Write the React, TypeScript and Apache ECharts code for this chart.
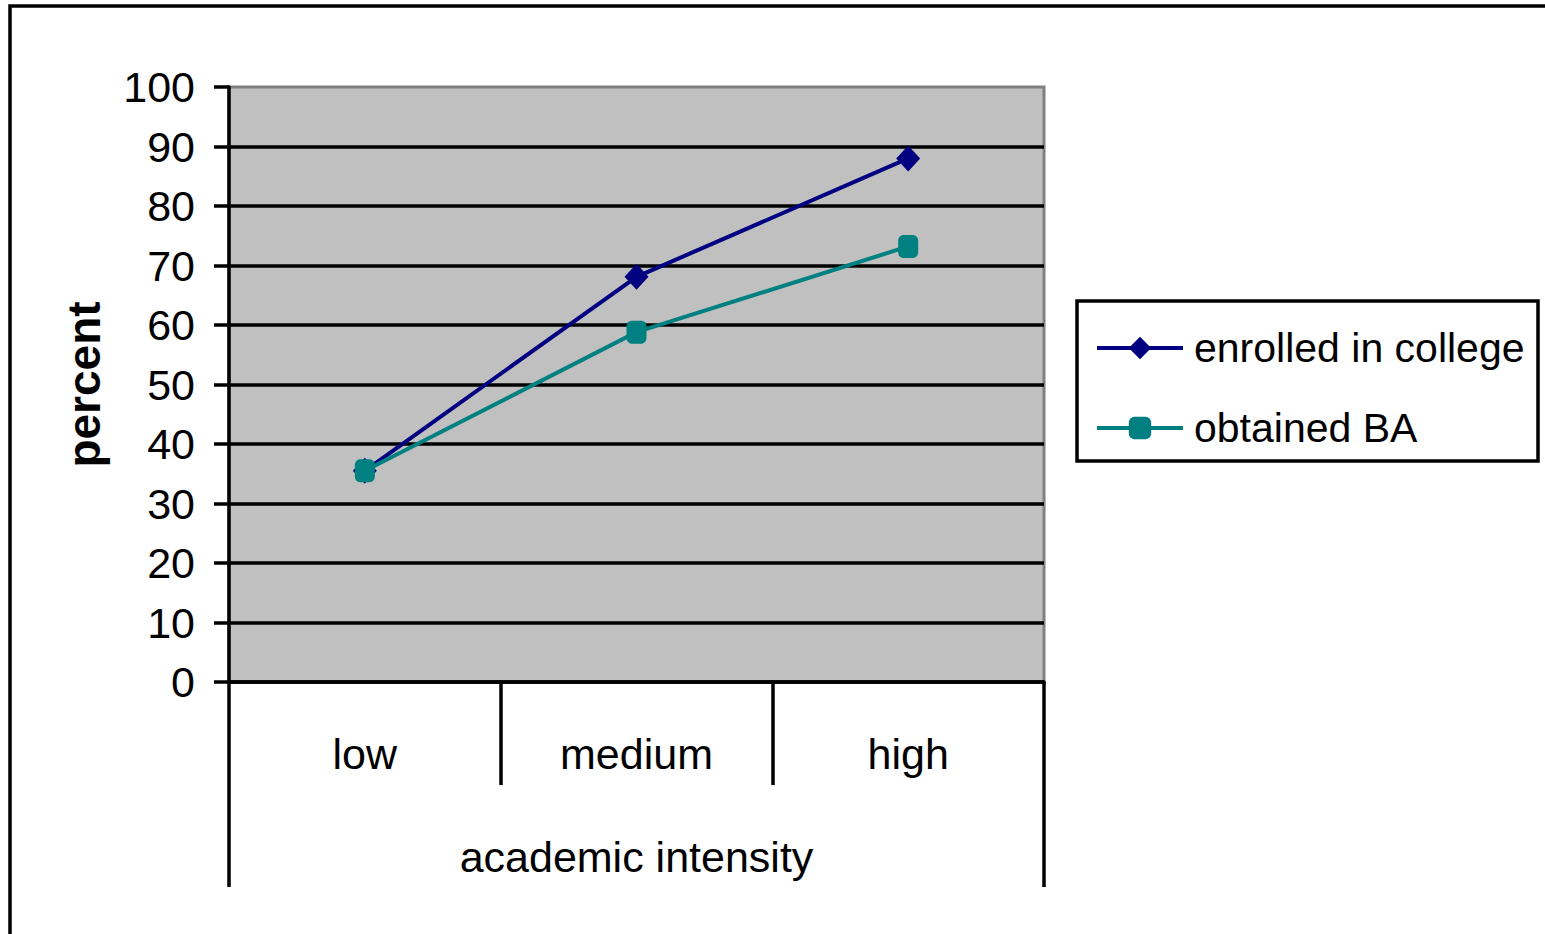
import React, { useEffect, useRef } from 'react';
import * as echarts from 'echarts';

const categories = ['low', 'medium', 'high'];
const groupCategories = ['academic intensity'];
const seriesNames = ['enrolled in college', 'obtained BA'];
const enrolled = [35.5, 68.1, 88];
const obtainedBA = [35.5, 58.8, 73.2];
const yMin = 0;
const yMax = 100;
const yStep = 10;

const FONT = '"Liberation Sans", Arial, sans-serif';

export default function App() {
  const ref = useRef<HTMLDivElement>(null);

  useEffect(() => {
    if (!ref.current) return;
    const chart = echarts.init(ref.current, undefined, { renderer: 'svg' });
    chart.setOption({
      animation: false,
      backgroundColor: '#ffffff',
      textStyle: { fontFamily: FONT },
      graphic: [
        {
          type: 'rect',
          shape: { x: 10, y: 6, width: 1600, height: 1000 },
          style: { fill: 'none', stroke: '#000000', lineWidth: 3.5 },
          z: 100,
        },
        {
          type: 'rect',
          shape: { x: 1077, y: 301, width: 461, height: 160 },
          style: { fill: 'none', stroke: '#000000', lineWidth: 3.5 },
          z: 100,
        },
      ],
      grid: {
        left: 229,
        top: 87,
        right: 1545 - 1044,
        bottom: 934 - 682,
        show: true,
        backgroundColor: '#C0C0C0',
        borderColor: '#808080',
        borderWidth: 3,
        outerBoundsMode: 'none',
        containLabel: false,
      },
      legend: {
        orient: 'vertical',
        left: 1095,
        top: 324,
        itemWidth: 86,
        itemHeight: 28,
        itemGap: 32,
        padding: 0,
        selectedMode: false,
        lineStyle: { width: 4 },
        textStyle: {
          fontFamily: FONT,
          fontSize: 41,
          color: '#000000',
          lineHeight: 48,
          padding: [0, 0, 0, 6],
        },
        data: seriesNames,
      },
      xAxis: [
        {
          type: 'category',
          data: categories,
          position: 'bottom',
          boundaryGap: true,
          axisLine: { show: true, lineStyle: { color: '#000000', width: 3.5 } },
          axisTick: {
            show: true,
            alignWithLabel: false,
            length: 103,
            lineStyle: { color: '#000000', width: 3.5 },
          },
          axisLabel: {
            fontFamily: FONT,
            fontSize: 43,
            color: '#000000',
            margin: 50,
          },
          splitLine: { show: false },
        },
        {
          type: 'category',
          data: groupCategories,
          position: 'bottom',
          offset: 103,
          boundaryGap: true,
          axisLine: { show: false },
          axisTick: {
            show: true,
            alignWithLabel: false,
            length: 102,
            lineStyle: { color: '#000000', width: 3.5 },
          },
          axisLabel: {
            fontFamily: FONT,
            fontSize: 43,
            color: '#000000',
            margin: 50,
          },
          splitLine: { show: false },
        },
      ],
      yAxis: {
        type: 'value',
        min: yMin,
        max: yMax,
        interval: yStep,
        name: 'percent',
        nameLocation: 'middle',
        nameRotate: 90,
        nameGap: 122,
        nameTextStyle: {
          fontFamily: FONT,
          fontSize: 46,
          fontWeight: 'bold',
          color: '#000000',
        },
        axisLine: { show: true, lineStyle: { color: '#000000', width: 3.5 } },
        axisTick: {
          show: true,
          inside: false,
          length: 15,
          lineStyle: { color: '#000000', width: 3.5 },
        },
        axisLabel: {
          fontFamily: FONT,
          fontSize: 43,
          color: '#000000',
          margin: 34,
        },
        splitLine: {
          show: true,
          showMaxLine: false,
          lineStyle: { color: '#000000', width: 3.5 },
        },
      },
      series: [
        {
          name: seriesNames[0],
          type: 'line',
          xAxisIndex: 0,
          data: enrolled,
          symbol: 'diamond',
          symbolSize: [24, 26],
          lineStyle: { color: '#000080', width: 4 },
          itemStyle: { color: '#000080' },
          z: 3,
        },
        {
          name: seriesNames[1],
          type: 'line',
          xAxisIndex: 0,
          data: obtainedBA,
          symbol: 'roundRect',
          symbolSize: [20, 23],
          lineStyle: { color: '#008080', width: 4 },
          itemStyle: { color: '#008080' },
          z: 4,
        },
      ],
    });
    return () => chart.dispose();
  }, []);

  return (
    <div
      ref={ref}
      style={{ position: 'absolute', left: 0, top: 0, width: 1545, height: 934 }}
    />
  );
}
